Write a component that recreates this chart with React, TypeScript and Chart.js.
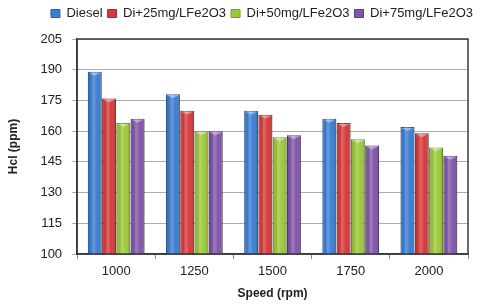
import React, { useEffect, useRef } from "react";
import { Chart, registerables } from "chart.js";

Chart.register(...registerables);

const categories = ["1000", "1250", "1500", "1750", "2000"];
const seriesNames = ["Diesel", "Di+25mg/LFe2O3", "Di+50mg/LFe2O3", "Di+75mg/LFe2O3"];
const diesel = [189, 178, 170, 166, 162];
const di25 = [176, 170, 168, 164, 159];
const di50 = [164, 160, 157, 156, 152];
const di75 = [166, 160, 158, 153, 148];
const seriesColors = ["#3b7dd2", "#d63a3a", "#9cc93b", "#8155aa"];
const borderColors = ["#2a5ea3", "#a52828", "#77a028", "#5f3d85"];
const yTitle = "Hcl (ppm)";
const xTitle = "Speed (rpm)";

const FONT = "'Liberation Sans', Arial, sans-serif";

const shadePlugin = {
  id: "shade",
  afterLayout(chart: any) {
    if (chart.legend) {
      chart.legend.left = 0;
      chart.legend.right = chart.width - 2;
    }
  },
  afterDatasetsDraw(chart: any) {
    const ctx = chart.ctx;
    const area = chart.chartArea;
    ctx.save();
    ctx.beginPath();
    ctx.rect(area.left, area.top, area.right - area.left, area.bottom - area.top);
    ctx.clip();
    chart.data.datasets.forEach((_d: any, di: number) => {
      const meta = chart.getDatasetMeta(di);
      meta.data.forEach((el: any) => {
        const { x, y, base, width } = el.getProps(["x", "y", "base", "width"], true);
        const l = x - width / 2;
        const r = x + width / 2;
        const b = Math.min(base, area.bottom);
        const g = ctx.createLinearGradient(l, 0, r, 0);
        g.addColorStop(0, "rgba(0,0,0,0.25)");
        g.addColorStop(0.15, "rgba(0,0,0,0.04)");
        g.addColorStop(0.38, "rgba(255,255,255,0.24)");
        g.addColorStop(0.7, "rgba(255,255,255,0.0)");
        g.addColorStop(1, "rgba(0,0,0,0.28)");
        ctx.fillStyle = g;
        ctx.fillRect(l, y, width, b - y);
        ctx.fillStyle = "rgba(255,255,255,0.4)";
        ctx.beginPath();
        ctx.moveTo(l + 1, y + 1);
        ctx.lineTo(r - 1, y + 1);
        ctx.lineTo(x, y + 4);
        ctx.closePath();
        ctx.fill();
      });
    });
    ctx.restore();
  },
  afterDraw(chart: any) {
    const { left, right, top, bottom } = chart.chartArea;
    const ctx = chart.ctx;
    ctx.save();
    ctx.strokeStyle = "#3a3a3a";
    ctx.lineWidth = 1.5;
    ctx.strokeRect(left, top, right - left, bottom - top);
    ctx.restore();
  },
};

const legendMargin = {
  id: "legendMargin",
  beforeInit(chart: any) {
    const legend = chart.legend;
    if (!legend) return;
    const orig = legend.fit;
    legend.fit = function () {
      orig.bind(legend)();
      this.height += 9;
    };
  },
};

export default function App() {
  const ref = useRef<HTMLCanvasElement>(null);
  useEffect(() => {
    document.body.style.margin = "0";
    const values = [diesel, di25, di50, di75];
    const chart = new Chart(ref.current!, {
      type: "bar",
      data: {
        labels: categories,
        datasets: seriesNames.map((name, i) => ({
          label: name,
          data: values[i],
          backgroundColor: seriesColors[i],
          borderColor: borderColors[i],
          borderWidth: 1,
          categoryPercentage: 0.73,
          barPercentage: 0.97,
        })),
      },
      options: {
        animation: false,
        responsive: false,
        maintainAspectRatio: false,
        layout: { padding: { left: 6, right: 12, top: 2, bottom: 7 } },
        plugins: {
          legend: {
            position: "top",
            align: "end",
            labels: {
              boxWidth: 9,
              boxHeight: 8,
              padding: 5,
              color: "#222",
              font: { family: FONT, size: 13 },
            },
          },
          tooltip: { enabled: false },
        },
        scales: {
          x: {
            grid: {
              drawOnChartArea: false,
              drawTicks: true,
              tickLength: 5,
              color: "#8a8a8a",
            },
            border: { color: "#3a3a3a", width: 1.5 },
            ticks: { color: "#222", padding: 5, font: { family: FONT, size: 13 } },
            title: {
              display: true,
              text: xTitle,
              color: "#222",
              padding: { top: 2, bottom: 0 },
              font: { family: FONT, size: 12, weight: "bold" },
            },
          },
          y: {
            min: 100,
            max: 205,
            grid: { color: "#acacac", tickLength: 5, drawTicks: true },
            border: { color: "#3a3a3a", width: 1.5 },
            ticks: {
              stepSize: 15,
              padding: 10,
              color: "#222",
              font: { family: FONT, size: 13 },
            },
            title: {
              display: true,
              text: yTitle,
              color: "#222",
              padding: { top: 0, bottom: 10 },
              font: { family: FONT, size: 12, weight: "bold" },
            },
          },
        },
      },
      plugins: [shadePlugin, legendMargin],
    });
    return () => chart.destroy();
  }, []);
  return (
    <div style={{ width: 480, height: 308, position: "relative" }}>
      <canvas ref={ref} width={480} height={308} style={{ display: "block" }} />
    </div>
  );
}
